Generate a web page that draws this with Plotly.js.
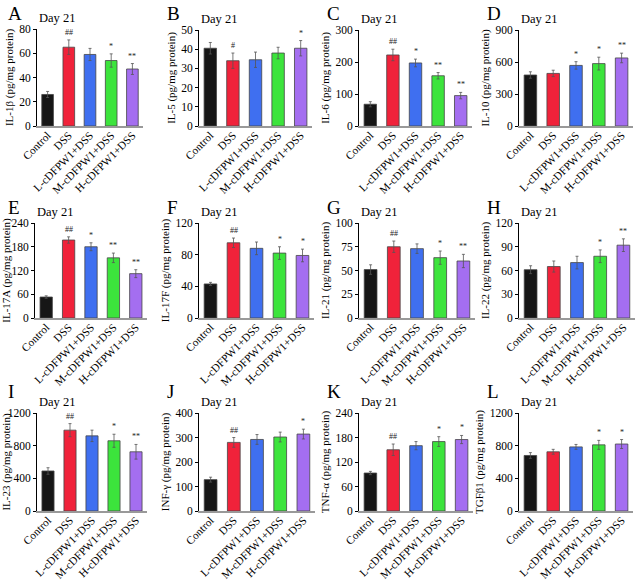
<!DOCTYPE html>
<html><head><meta charset="utf-8">
<script src="https://cdn.plot.ly/plotly-3.0.1.min.js"></script>
<style>html,body{margin:0;padding:0;background:#fff}#chart{width:644px;height:582px}</style>
</head><body><div id="chart"></div>
<script>
const categories = ['Control','DSS','L-cDFPW1+DSS','M-cDFPW1+DSS','H-cDFPW1+DSS'];
const barColors = ['#161616','#f0223a','#3f6ff0','#3ce43c','#a46ef0'];

const il1b = [26, 65, 59, 54, 47];         const il1bErr = [2.5, 6, 5, 5.5, 4.5];   const il1bSig = ['', '##', '', '*', '**'];
const il5 = [40.5, 34, 34.5, 38, 40.5];    const il5Err = [3, 4, 4, 3, 4];          const il5Sig = ['', '#', '', '', '*'];
const il6 = [68, 222, 197, 157, 95];       const il6Err = [8, 18, 12, 10, 10];      const il6Sig = ['', '##', '*', '**', '**'];
const il10 = [478, 493, 568, 585, 638];    const il10Err = [30, 30, 35, 60, 45];    const il10Sig = ['', '', '*', '*', '**'];
const il17a = [53, 197, 180, 152, 112];    const il17aErr = [3, 8, 10, 12, 10];     const il17aSig = ['', '##', '*', '**', '**'];
const il17f = [43, 95, 88, 82, 79];        const il17fErr = [2, 6, 8, 8, 8];        const il17fSig = ['', '##', '', '*', '*'];
const il21 = [51, 75, 73, 63.5, 60];       const il21Err = [5, 6, 5, 7, 7];         const il21Sig = ['', '##', '', '*', '**'];
const il22 = [61, 65, 70, 78, 92];         const il22Err = [5, 7, 8, 8, 8];         const il22Sig = ['', '', '', '*', '**'];
const il23 = [490, 990, 920, 860, 725];    const il23Err = [40, 80, 70, 80, 90];    const il23Sig = ['', '##', '', '*', '**'];
const infg = [128, 280, 292, 302, 314];    const infgErr = [10, 20, 20, 20, 20];    const infgSig = ['', '##', '', '', '*'];
const tnfa = [93, 150, 160, 170, 175];     const tnfaErr = [4, 14, 10, 12, 10];     const tnfaSig = ['', '##', '', '*', '*'];
const tgfb = [680, 725, 785, 810, 820];    const tgfbErr = [35, 30, 30, 55, 55];    const tgfbSig = ['', '', '', '*', '*'];

const panelLetters = ['A','B','C','D','E','F','G','H','I','J','K','L'];
const yTitles = ['IL-1β (pg/mg protein)','IL-5 (pg/mg protein)','IL-6 (pg/mg protein)','IL-10 (pg/mg protein)',
  'IL-17A (pg/mg protein)','IL-17F (pg/mg protein)','IL-21 (pg/mg protein)','IL-22 (pg/mg protein)',
  'IL-23 (pg/mg protein)','INF-γ (pg/mg protein)','TNF-α (pg/mg protein)','TGFβ1 (pg/mg protein)'];
const dayLabel = 'Day 21';
const yMax = [80, 50, 300, 900, 240, 120, 100, 120, 1200, 400, 240, 1200];
const yDtick = [20, 10, 100, 300, 60, 40, 25, 30, 400, 100, 60, 400];
const values = [il1b, il5, il6, il10, il17a, il17f, il21, il22, il23, infg, tnfa, tgfb];
const errs = [il1bErr, il5Err, il6Err, il10Err, il17aErr, il17fErr, il21Err, il22Err, il23Err, infgErr, tnfaErr, tgfbErr];
const sigs = [il1bSig, il5Sig, il6Sig, il10Sig, il17aSig, il17fSig, il21Sig, il22Sig, il23Sig, infgSig, tnfaSig, tgfbSig];

// layout geometry (pixels)
const W = 644, H = 582;
const boxes = [
  [37,143,29,126],[199,312,30,126],[359,472,30,126],[519,633,30,126],
  [35,147,223,318],[199,314,223,318],[359,475,223,318],[519,635,223,318],
  [37,147,413,511],[199,315,413,511],[359,473,413,511],[519,633,413,511]
];
const letterPos = [[6,1],[165,1],[325,1],[485,1],[6,195],[165,195],[325,195],[485,195],[6,379],[165,379],[325,379],[485,379]];

const FONT = 'Liberation Serif, Times New Roman, serif';
const traces = [];
const layout = {
  width: W, height: H, margin: {l:0, r:0, t:0, b:0},
  paper_bgcolor: '#fff', plot_bgcolor: '#fff', showlegend: false,
  font: {family: FONT, color: '#000', size: 11},
  annotations: []
};

for (let i = 0; i < 12; i++) {
  const n = i === 0 ? '' : String(i + 1);
  const [x0, x1, y0, y1] = boxes[i];
  traces.push({
    type: 'bar', x: categories, y: values[i], xaxis: 'x' + n, yaxis: 'y' + n,
    width: 0.55,
    marker: {color: barColors, line: {color: 'rgba(70,70,70,0.8)', width: 1}},
    error_y: {type: 'data', array: errs[i], visible: true, color: '#555', thickness: 0.8, width: 1.5},
    hoverinfo: 'none'
  });
  layout['xaxis' + n] = {
    domain: [x0 / W, x1 / W], anchor: 'y' + n, type: 'category', range: [-0.5, 4.5],
    showline: true, linecolor: '#999', linewidth: 1.5, ticks: '', showgrid: false, zeroline: false,
    tickangle: -45, ticklabelstandoff: -3, tickfont: {family: FONT, size: 11.2, color: '#000'}, fixedrange: true
  };
  layout['yaxis' + n] = {
    domain: [1 - y1 / H, 1 - y0 / H], anchor: 'x' + n, range: [0, yMax[i]], dtick: yDtick[i], tick0: 0,
    showline: true, linecolor: '#000', linewidth: 1, ticks: 'outside', ticklen: 3, tickcolor: '#000',
    showgrid: false, zeroline: false, tickfont: {family: FONT, size: 11.5, color: '#000'}, fixedrange: true,
    title: {text: yTitles[i], standoff: 3, font: {family: FONT, size: 11, color: '#000'}}
  };
  // panel letter
  layout.annotations.push({
    xref: 'paper', yref: 'paper', x: letterPos[i][0] / W, y: 1 - letterPos[i][1] / H,
    xanchor: 'left', yanchor: 'top', text: panelLetters[i], showarrow: false,
    font: {family: FONT, size: 19, color: '#000'}
  });
  // Day label
  layout.annotations.push({
    xref: 'paper', yref: 'paper', x: x0 / W, y: 1 - (y0 - 2) / H,
    xanchor: 'left', yanchor: 'bottom', text: dayLabel, showarrow: false,
    font: {family: FONT, size: 12.5, color: '#000'}
  });
  // significance marks
  for (let k = 0; k < categories.length; k++) {
    if (!sigs[i][k]) continue;
    layout.annotations.push({
      xref: 'x' + n, yref: 'y' + n, x: categories[k], y: values[i][k] + errs[i][k],
      xanchor: 'center', yanchor: 'bottom', yshift: 1, text: sigs[i][k], showarrow: false,
      font: {family: FONT, size: 8, color: '#222'}
    });
  }
}

Plotly.newPlot('chart', traces, layout, {staticPlot: true, displayModeBar: false});
</script></body></html>
